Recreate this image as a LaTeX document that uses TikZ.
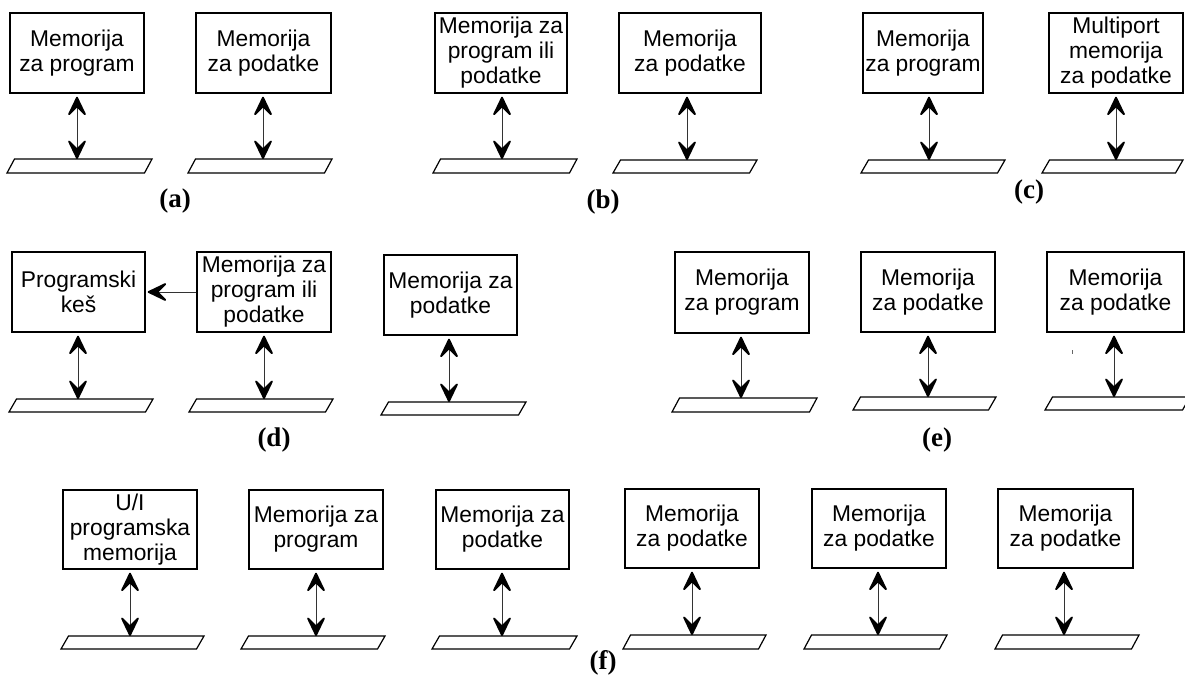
\documentclass[tikz,border=0pt]{standalone}
\usepackage{fontspec}
\setmainfont{Liberation Sans}
\newfontfamily\capfont{Liberation Serif}
\usetikzlibrary{arrows.meta}

% draws a bus (parallelogram) from bottom-left x to top-right x, with the port coordinate on its top edge
\newcommand{\busbar}[6]{%
  \draw[busline] (#2+7.5,#4) -- (#3,#4) -- (#3-7.5,#5) -- (#2,#5) -- cycle;
  \coordinate (#1) at (#6,#4);
}

\begin{document}
\begin{tikzpicture}[x=1pt,y=-1pt,
  mem/.style={draw, line width=1.4pt, inner sep=0pt, align=center,
    font=\fontsize{22.8}{25}\selectfont},
  busline/.style={line width=1.2pt},
  barb/.tip={Stealth[length=23pt,width=22pt,inset=11pt,line width=1.8pt,round,color=black]},
  link/.style={line width=0.9pt, draw=black!80, barb-barb, shorten <=3pt},
  sublabel/.style={font=\capfont\bfseries\fontsize{27}{30}\selectfont, inner sep=0pt}]
\useasboundingbox (0,0) rectangle (1185,682);

% ---------- (a) ----------
\node[mem, minimum width=134pt, minimum height=80pt] (a1) at (77,53) {Memorija\\za program};
\node[mem, minimum width=135pt, minimum height=80pt] (a2) at (263.5,53) {Memorija\\za podatke};
\busbar{pa1}{7}{152}{159}{173}{77}
\busbar{pa2}{188}{332}{159}{173}{263}
\draw[link] (a1.south -| pa1) -- (pa1);
\draw[link] (a2.south -| pa2) -- (pa2);
\node[sublabel] (la) at (175,201) {(a)};

% ---------- (b) ----------
\node[mem, minimum width=132pt, minimum height=80pt] (b1) at (501,53) {Memorija za\\program ili\\podatke};
\node[mem, minimum width=142pt, minimum height=80pt] (b2) at (690,53) {Memorija\\za podatke};
\busbar{pb1}{433}{577}{159}{173}{502}
\busbar{pb2}{613}{757}{160}{173}{687}
\draw[link] (b1.south -| pb1) -- (pb1);
\draw[link] (b2.south -| pb2) -- (pb2);
\node[sublabel] (lb) at (603,202) {(b)};

% ---------- (c) ----------
\node[mem, minimum width=120pt, minimum height=80pt] (c1) at (923,53) {Memorija\\za program};
\node[mem, minimum width=134pt, minimum height=80pt] (c2) at (1116,53) {Multiport\\memorija\\za podatke};
\busbar{pc1}{861}{1005}{160}{173}{929}
\busbar{pc2}{1042}{1183}{160}{173}{1116}
\draw[link] (c1.south -| pc1) -- (pc1);
\draw[link] (c2.south -| pc2) -- (pc2);
\node[sublabel] (lc) at (1029,192) {(c)};

% ---------- (d) ----------
\node[mem, minimum width=133pt, minimum height=80pt] (d1) at (78.5,292) {Programski\\keš};
\node[mem, minimum width=134pt, minimum height=80pt] (d2) at (264,292) {Memorija za\\program ili\\podatke};
\node[mem, minimum width=133pt, minimum height=80pt] (d3) at (450.5,295) {Memorija za\\podatke};
\busbar{pd1}{9}{153}{399}{412}{78}
\busbar{pd2}{189}{333}{399}{412}{264}
\busbar{pd3}{381}{526}{402}{415}{449}
\draw[link] (d1.south -| pd1) -- (pd1);
\draw[link] (d2.south -| pd2) -- (pd2);
\draw[link] (d3.south -| pd3) -- (pd3);
\draw[line width=0.9pt, draw=black!80, -barb, shorten >=2pt] (d2.west) -- (d1.east);
\node[sublabel] (ld) at (274,440) {(d)};

% ---------- (e) ----------
\node[mem, minimum width=134pt, minimum height=81pt] (e1) at (742,292.5) {Memorija\\za program};
\node[mem, minimum width=134pt, minimum height=80pt] (e2) at (928,292) {Memorija\\za podatke};
\node[mem, minimum width=137pt, minimum height=80pt] (e3) at (1115.5,292) {Memorija\\za podatke};
\busbar{pe1}{672}{817}{398}{412}{741}
\busbar{pe2}{853}{996}{397}{410}{928}
\busbar{pe3}{1045}{1190}{397}{410}{1114}
\draw[link] (e1.south -| pe1) -- (pe1);
\draw[link] (e2.south -| pe2) -- (pe2);
\draw[link] (e3.south -| pe3) -- (pe3);
\draw[line width=0.8pt, black!60] (1072,350) -- (1072,354);
\node[sublabel] (le) at (937,440) {(e)};

% ---------- (f) ----------
\node[mem, minimum width=134pt, minimum height=79pt] (f1) at (130,529.5) {U/I\\programska\\memorija};
\node[mem, minimum width=134pt, minimum height=79pt] (f2) at (316,529.5) {Memorija za\\program};
\node[mem, minimum width=133pt, minimum height=79pt] (f3) at (502.5,529.5) {Memorija za\\podatke};
\node[mem, minimum width=134pt, minimum height=79pt] (f4) at (692,528.5) {Memorija\\za podatke};
\node[mem, minimum width=134pt, minimum height=79pt] (f5) at (879,528.5) {Memorija\\za podatke};
\node[mem, minimum width=135pt, minimum height=79pt] (f6) at (1065.5,528.5) {Memorija\\za podatke};
\busbar{pf1}{61}{204}{636}{649}{130}
\busbar{pf2}{241}{385}{636}{649}{316}
\busbar{pf3}{432}{577}{636}{649}{502}
\busbar{pf4}{623}{766}{635}{649}{692}
\busbar{pf5}{804}{947}{635}{649}{878}
\busbar{pf6}{995}{1139}{635}{649}{1064}
\draw[link] (f1.south -| pf1) -- (pf1);
\draw[link] (f2.south -| pf2) -- (pf2);
\draw[link] (f3.south -| pf3) -- (pf3);
\draw[link] (f4.south -| pf4) -- (pf4);
\draw[link] (f5.south -| pf5) -- (pf5);
\draw[link] (f6.south -| pf6) -- (pf6);
\node[sublabel] (lf) at (603,663) {(f)};
\end{tikzpicture}
\end{document}
